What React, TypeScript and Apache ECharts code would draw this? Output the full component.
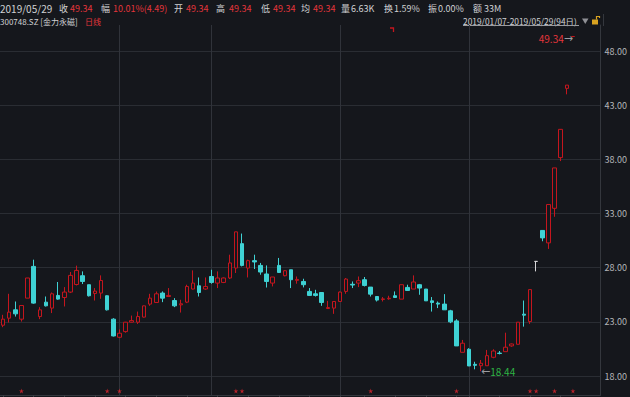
import React, { useEffect, useRef } from "react";
import * as echarts from "echarts";

const dates = [
  "2019-01-07","2019-01-08","2019-01-09","2019-01-10","2019-01-11","2019-01-14","2019-01-15","2019-01-16","2019-01-17","2019-01-18",
  "2019-01-21","2019-01-22","2019-01-23","2019-01-24","2019-01-25","2019-01-28","2019-01-29","2019-01-30","2019-01-31",
  "2019-02-01","2019-02-11","2019-02-12","2019-02-13","2019-02-14","2019-02-15","2019-02-18","2019-02-19","2019-02-20","2019-02-21",
  "2019-02-22","2019-02-25","2019-02-26","2019-02-27","2019-02-28",
  "2019-03-01","2019-03-04","2019-03-05","2019-03-06","2019-03-07","2019-03-08","2019-03-11","2019-03-12","2019-03-13","2019-03-14",
  "2019-03-15","2019-03-18","2019-03-19","2019-03-20","2019-03-21","2019-03-22","2019-03-25","2019-03-26","2019-03-27","2019-03-28","2019-03-29",
  "2019-04-01","2019-04-02","2019-04-03","2019-04-04","2019-04-08","2019-04-09","2019-04-10","2019-04-11","2019-04-12","2019-04-15",
  "2019-04-16","2019-04-17","2019-04-18","2019-04-19","2019-04-22","2019-04-23","2019-04-24","2019-04-25","2019-04-26","2019-04-29","2019-04-30",
  "2019-05-06","2019-05-07","2019-05-08","2019-05-09","2019-05-10","2019-05-13","2019-05-14","2019-05-15","2019-05-16","2019-05-17",
  "2019-05-20","2019-05-21","2019-05-22","2019-05-23","2019-05-24","2019-05-27","2019-05-28","2019-05-29",
];
// empty slots after the last session (right margin of the K-line view)
const padSlots = ["pad-1", "pad-2", "pad-3", "pad-4"];

const opens = [
  22.69,23.34,24.11,23.25,25.19,28.12,23.49,24.82,24.27,25.44,25.25,25.75,26.45,27.26,26.43,25.62,25.66,25.41,23.25,
  21.58,22.10,22.97,22.97,23.44,24.64,24.79,25.66,25.34,24.97,24.57,24.82,26.03,26.33,26.03,
  27.19,26.58,26.64,27.05,27.97,30.22,27.97,28.65,28.21,27.42,26.58,28.21,27.26,27.81,26.83,26.73,25.81,25.59,25.71,24.23,24.27,
  24.88,25.81,26.47,26.58,26.89,26.21,25.34,25.07,25.13,25.41,25.10,26.18,26.03,26.43,26.03,24.94,24.73,24.64,24.02,23.09,20.19,
  20.47,19.08,18.95,18.95,19.73,20.12,20.25,20.78,20.93,23.71,23.03,28.58,31.44,30.29,33.48,38.16,44.55,49.34,
];
const closes = [
  23.25,23.90,23.74,24.51,27.05,24.73,24.11,24.48,25.59,25.10,25.75,27.29,27.75,26.73,25.41,25.84,26.82,24.11,21.70,
  21.95,22.97,23.12,23.49,24.48,25.19,25.59,25.19,25.44,24.48,24.67,26.27,26.58,25.71,26.27,
  26.64,27.05,27.05,28.44,31.31,28.21,28.65,28.53,27.60,26.73,27.14,27.56,27.72,26.89,26.92,26.43,25.44,25.44,24.79,24.32,24.88,
  25.75,26.95,26.40,26.80,26.36,25.56,25.01,25.12,25.18,25.25,26.43,25.90,26.68,26.12,24.94,24.79,24.64,24.11,23.00,20.78,21.03,
  18.93,18.99,19.18,19.88,20.31,20.08,20.66,20.96,22.97,23.62,25.98,28.58,30.75,33.83,37.21,40.77,44.85,49.34,
];
const lows = [
  22.51,22.94,23.49,23.03,25.19,24.67,23.25,24.42,23.81,25.04,24.42,25.66,26.36,26.49,25.34,24.97,25.13,24.05,21.65,
  21.50,22.00,22.95,22.81,23.40,24.48,24.75,24.82,25.29,24.36,23.86,24.73,26.00,25.34,25.96,
  26.52,26.12,26.58,26.95,27.51,28.12,27.10,27.88,27.35,26.17,26.27,27.51,27.20,26.12,26.52,26.18,25.40,25.34,24.48,24.20,23.74,
  24.85,25.59,26.12,26.21,26.27,25.34,24.88,24.88,25.04,25.25,25.10,25.90,26.03,25.50,24.94,23.95,24.27,24.11,22.88,20.78,20.19,
  18.93,18.62,18.44,18.95,19.64,20.00,20.25,20.70,20.93,22.56,22.81,27.66,30.44,29.73,32.70,37.84,44.00,49.34,
];
const highs = [
  23.65,25.59,24.88,24.51,27.05,28.74,24.36,25.34,25.71,26.68,26.21,27.60,28.19,27.66,26.43,26.12,27.29,25.45,23.34,
  22.30,23.00,23.58,23.95,24.50,25.59,25.80,25.81,26.12,25.19,25.04,26.43,27.75,27.10,27.10,
  27.81,27.66,27.10,29.20,31.31,31.15,28.74,29.20,28.44,28.21,27.14,28.90,27.78,27.81,27.19,26.98,26.12,25.96,25.71,24.94,24.90,
  25.80,27.05,26.73,27.19,27.14,26.21,25.34,25.29,25.41,25.81,26.45,26.43,27.29,26.50,26.03,25.29,24.88,25.56,24.11,23.25,21.33,
  20.57,19.32,19.48,20.41,20.47,20.31,22.00,21.00,22.97,24.97,25.98,28.58,31.44,33.83,37.21,40.80,44.85,49.34,
];
// sessions flagged with a star under the chart
const starDays = [3, 17, 19, 38, 39, 60, 74, 86, 87, 90, 93];
// first session of each month (vertical grid lines)
const monthStarts = [19, 34, 55, 76];
const priceTicks = [18, 23, 28, 33, 38, 43, 48];
const lowIndex = 78;
const highIndex = 93;

const BG = "#15171c";
const RED = "#c4161e";
const RED_TXT = "#e3353b";
const CYAN = "#3fd2d4";
const GREY_TXT = "#d0d1d3";
const FONT = '"Noto Sans CJK SC", "Noto Sans", sans-serif';

export default function App() {
  const ref = useRef<HTMLDivElement>(null);
  useEffect(() => {
    if (!ref.current) return;
    const chart = echarts.init(ref.current, undefined, { renderer: "svg" });
    const categories = [...dates, ...padSlots];
    const ohlc = dates.map((d, i) => {
      const v = [opens[i], closes[i], lows[i], highs[i]];
      if (i === highIndex) {
        return { value: v, itemStyle: { borderColorDoji: RED } };
      }
      return v;
    });
    const isMonday = (index: number, value: string) => {
      if (index >= dates.length) return false;
      const d = new Date(value);
      return d.getUTCDay() === 1;
    };

    const t = (x: number, y: number, text: string, fill: string, size = 9, align = "left") => ({
      type: "text",
      silent: true,
      style: {
        x, y, text, fill,
        fontSize: size, fontFamily: FONT,
        align, verticalAlign: "middle",
        textAlign: align, textVerticalAlign: "middle",
      },
    });

    const header = [
      t(0, 8, "2019/05/29", GREY_TXT, 10),
      t(59, 8, "收", GREY_TXT, 9), t(70, 8, "49.34", RED_TXT, 9),
      t(101, 8, "幅", GREY_TXT, 9), t(113, 8, "10.01%(4.49)", RED_TXT, 9),
      t(174, 8, "开", GREY_TXT, 9), t(186, 8, "49.34", RED_TXT, 9),
      t(216, 8, "高", GREY_TXT, 9), t(229, 8, "49.34", RED_TXT, 9),
      t(261, 8, "低", GREY_TXT, 9), t(273, 8, "49.34", RED_TXT, 9),
      t(301, 8, "均", GREY_TXT, 9), t(313, 8, "49.34", RED_TXT, 9),
      t(341, 8, "量", GREY_TXT, 9), t(351, 8, "6.63K", GREY_TXT, 9),
      t(384, 8, "换", GREY_TXT, 9), t(394, 8, "1.59%", GREY_TXT, 9),
      t(428, 8, "振", GREY_TXT, 9), t(438, 8, "0.00%", GREY_TXT, 9),
      t(473, 8, "额", GREY_TXT, 9), t(484, 8, "33M", GREY_TXT, 9),
      t(0, 21, "300748.SZ [金力永磁]", GREY_TXT, 8),
      t(85, 21, "日线", RED_TXT, 8),
      t(463, 20.5, "2019/01/07-2019/05/29(94日)", GREY_TXT, 8.4),
      { type: "line", silent: true, shape: { x1: 463, y1: 25.5, x2: 579, y2: 25.5 }, style: { stroke: "#9a9ba0", lineWidth: 1 } },
      { type: "polygon", silent: true, shape: { points: [[582, 18.5], [588.5, 18.5], [585.25, 24]] }, style: { fill: "#8f9095" } },
      { type: "rect", silent: true, shape: { x: 592, y: 19.5, width: 6, height: 5 }, style: { fill: "#d9a321" } },
      { type: "polyline", silent: true, shape: { points: [[596.5, 19.5], [596.5, 16.5], [599.5, 16.5], [599.5, 18]] }, style: { stroke: "#d9a321", lineWidth: 1.2, fill: null } },
      { type: "line", silent: true, shape: { x1: 603.5, y1: 14, x2: 603.5, y2: 26 }, style: { stroke: "#34373d", lineWidth: 1 } },
      { type: "polyline", silent: true, shape: { points: [[390, 28], [393.5, 28], [393.5, 32]] }, style: { stroke: RED, lineWidth: 1.3, fill: null } },
    ];

    chart.setOption({
      animation: false,
      backgroundColor: BG,
      grid: { left: -2, right: 26, top: 25, bottom: 2 },
      xAxis: {
        type: "category",
        data: categories,
        boundaryGap: true,
        axisLine: { show: true, lineStyle: { color: "#34373d" } },
        axisTick: { show: true, alignWithLabel: true, interval: isMonday, length: 2, lineStyle: { color: "#3a3d43" } },
        axisLabel: { show: false },
        splitLine: { show: false },
      },
      yAxis: {
        type: "value",
        position: "right",
        min: 16.25,
        max: 50.4,
        axisLine: { show: true, lineStyle: { color: "#34373d" } },
        axisTick: { show: false, customValues: priceTicks },
        axisLabel: {
          customValues: priceTicks,
          formatter: (v: number) => v.toFixed(2),
          color: "#b3b4b7",
          fontSize: 9,
          fontFamily: FONT,
          margin: 4,
        },
        splitLine: { show: true, lineStyle: { color: "#2a2d33", width: 1 } },
      },
      graphic: header,
      series: [
        {
          type: "candlestick",
          data: ohlc,
          barWidth: 4,
          itemStyle: {
            color: BG,
            color0: CYAN,
            borderColor: RED,
            borderColor0: CYAN,
            borderColorDoji: "#d6d6d8",
            borderWidth: 1,
          },
          markLine: {
            silent: true,
            z: 1,
            symbol: ["none", "none"],
            label: { show: false },
            lineStyle: { color: "#30333a", type: "solid", width: 1 },
            data: monthStarts.map((i) => ({ xAxis: dates[i] })),
          },
          markPoint: {
            silent: true,
            symbol: "circle",
            symbolSize: 0,
            data: [
              {
                coord: [dates[lowIndex], lows[lowIndex]],
                label: {
                  show: true,
                  position: "right",
                  distance: 0,
                  formatter: "{a|←}{b|" + lows[lowIndex].toFixed(2) + "}",
                  rich: {
                    a: { color: "#9a9ba0", fontSize: 11, fontFamily: "DejaVu Sans" },
                    b: { color: "#2fb344", fontSize: 10, fontFamily: FONT },
                  },
                },
              },
              {
                coord: [dates[highIndex], highs[highIndex]],
                label: {
                  show: true,
                  position: "left",
                  distance: 0,
                  offset: [0, 2],
                  formatter: "{b|" + highs[highIndex].toFixed(2) + "}{a|→}",
                  rich: {
                    a: { color: "#9a9ba0", fontSize: 11, fontFamily: "DejaVu Sans" },
                    b: { color: RED_TXT, fontSize: 10, fontFamily: FONT },
                  },
                },
              },
            ],
          },
        },
        {
          type: "scatter",
          data: starDays.map((i) => [dates[i], 16.62]),
          symbol: "path://M50,0 L61,35 L98,35 L68,57 L79,91 L50,70 L21,91 L32,57 L2,35 L39,35 Z",
          symbolSize: 5,
          itemStyle: { color: "#e3262e" },
          silent: true,
        },
      ],
    });
    return () => chart.dispose();
  }, []);
  return (
    <div
      ref={ref}
      style={{ position: "fixed", left: 0, top: 0, width: 630, height: 397 }}
    />
  );
}
